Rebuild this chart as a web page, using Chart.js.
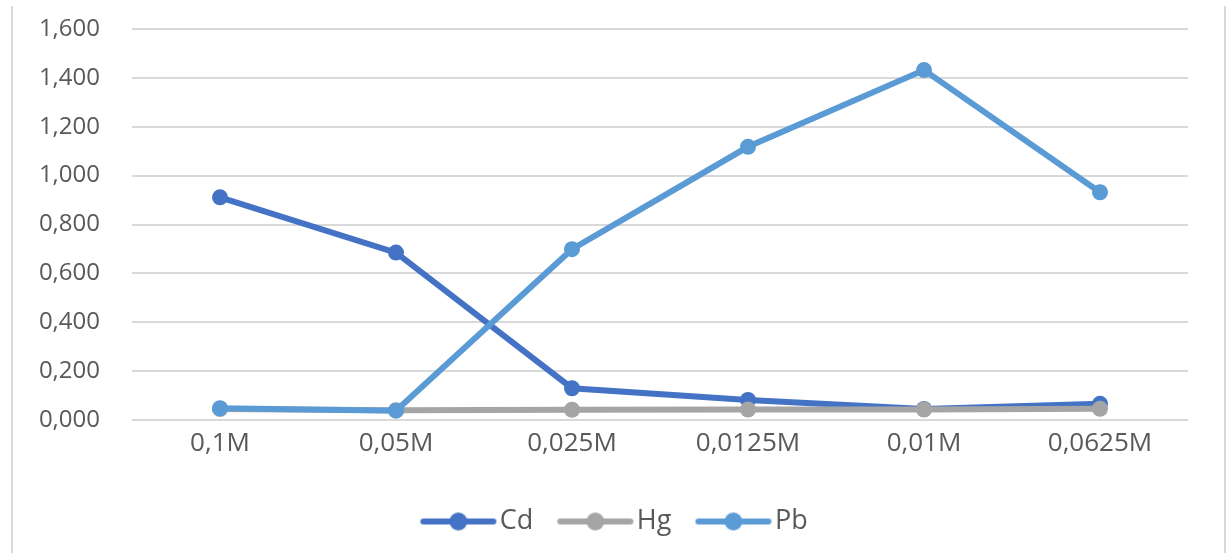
<!DOCTYPE html>
<html>
<head>
<meta charset="utf-8">
<script src="https://cdn.jsdelivr.net/npm/chart.js@4.4.1/dist/chart.umd.min.js"></script>
<style>
  body { margin: 0; background: #fff; }
  #marco { position: absolute; left: 11px; top: 6px; width: 1211px; height: 547px;
           border-left: 2px solid #d9d9d9; border-right: 2px solid #d9d9d9; }
  #lienzo { position: absolute; left: 0; top: 0; }
</style>
</head>
<body>
<div id="marco"></div>
<canvas id="lienzo" width="1229" height="553"></canvas>
<script>
// datos
const concentraciones = ["0,1M", "0,05M", "0,025M", "0,0125M", "0,01M", "0,0625M"];
const valoresCd = [0.911, 0.685, 0.130, 0.082, 0.045, 0.066];
const valoresHg = [0.045, 0.040, 0.042, 0.043, 0.043, 0.046];
const valoresPb = [0.048, 0.038, 0.699, 1.118, 1.432, 0.932];
const ticksY = [0, 0.2, 0.4, 0.6, 0.8, 1.0, 1.2, 1.4, 1.6];

const colores = { Cd: '#4472C4', Hg: '#A5A5A5', Pb: '#5B9BD5' };
const fuente = "'Open Sans', 'DejaVu Sans', sans-serif";

// icono de leyenda estilo Excel: linea con circulo
function iconoLeyenda(color) {
    const c = document.createElement('canvas');
    c.width = 78; c.height = 22;
    const g = c.getContext('2d');
    g.strokeStyle = color;
    g.lineWidth = 6;
    g.lineCap = 'round';
    g.beginPath(); g.moveTo(4, 11); g.lineTo(74, 11); g.stroke();
    g.fillStyle = color;
    g.beginPath(); g.arc(39, 11, 9, 0, Math.PI * 2); g.fill();
    return c;
}

function serie(nombre, datos, orden) {
    return {
        label: nombre,
        data: datos,
        borderColor: colores[nombre],
        backgroundColor: colores[nombre],
        borderWidth: 6,
        pointRadius: 8,
        pointBorderWidth: 0,
        pointBackgroundColor: colores[nombre],
        tension: 0,
        order: orden
    };
}

const ctx = document.getElementById('lienzo').getContext('2d');
new Chart(ctx, {
    type: 'line',
    data: {
        labels: concentraciones,
        datasets: [
            serie('Cd', valoresCd, 3),
            serie('Hg', valoresHg, 2),
            serie('Pb', valoresPb, 1)
        ]
    },
    options: {
        responsive: false,
        animation: false,
        layout: { padding: { left: 12, right: 3, top: 29, bottom: 8 } },
        plugins: {
            tooltip: { enabled: false },
            legend: {
                position: 'bottom',
                labels: {
                    usePointStyle: true,
                    pointStyleWidth: 56,
                    padding: 34,
                    color: '#595959',
                    font: { family: fuente, size: 27 },
                    sort: (a, b) => a.datasetIndex - b.datasetIndex,
                    generateLabels: (chart) => chart.data.datasets.map((d, i) => ({
                        text: d.label,
                        datasetIndex: i,
                        pointStyle: iconoLeyenda(d.borderColor),
                        fillStyle: d.borderColor,
                        strokeStyle: d.borderColor,
                        lineWidth: 0,
                        fontColor: '#595959',
                        hidden: false
                    }))
                }
            }
        },
        scales: {
            x: {
                offset: true,
                grid: { display: false, drawTicks: false },
                border: { display: false },
                ticks: { color: '#595959', padding: 8, font: { family: fuente, size: 26 } },
                afterFit: (s) => { s.height = 54; }
            },
            y: {
                min: 0,
                max: 1.6,
                afterBuildTicks: (s) => { s.ticks = ticksY.map(v => ({ value: v })); },
                grid: { color: '#d9d9d9', lineWidth: 2, drawTicks: false },
                border: { display: false },
                ticks: {
                    color: '#595959',
                    padding: 32,
                    font: { family: fuente, size: 24 },
                    callback: (v) => v.toFixed(3).replace('.', ',')
                },
                afterFit: (s) => { s.width = 120; s.paddingTop = 0; s.paddingBottom = 0; }
            },
            // margen derecho vacio para que la leyenda quede centrada en el marco
            derecha: {
                type: 'linear',
                position: 'right',
                grid: { display: false, drawTicks: false },
                border: { display: false },
                ticks: { display: false },
                afterFit: (s) => { s.width = 38; s.paddingTop = 0; s.paddingBottom = 0; }
            }
        }
    }
});
</script>
</body>
</html>
